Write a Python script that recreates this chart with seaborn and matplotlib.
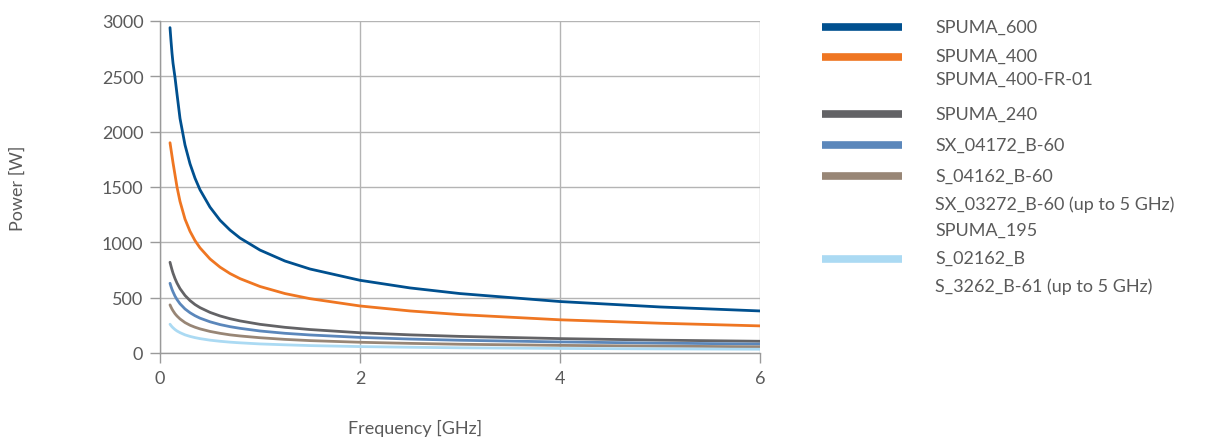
import matplotlib
matplotlib.use("Agg")
import matplotlib.pyplot as plt
from matplotlib.lines import Line2D
import seaborn as sns
import pandas as pd

# ---- data ----
freq_ghz = [0.1, 0.11, 0.12, 0.13, 0.15, 0.17, 0.2, 0.25, 0.3, 0.35, 0.4, 0.5, 0.6, 0.7, 0.8,
            1.0, 1.25, 1.5, 2.0, 2.5, 3.0, 4.0, 5.0, 6.0]
spuma_600 = [2940, 2820, 2710, 2620, 2490, 2340, 2120, 1880, 1710, 1580, 1475, 1318, 1200, 1111, 1039,
             930, 831, 759, 657, 588, 537, 465, 416, 380]
spuma_400 = [1900, 1840, 1780, 1720, 1610, 1500, 1370, 1210, 1100, 1016, 950, 850, 776, 718, 672,
             601, 537, 491, 425, 380, 347, 300, 269, 245]
spuma_240 = [820, 785, 752, 722, 673, 632, 582, 520, 474, 438, 410, 367, 335, 310, 290,
             259, 232, 212, 183, 164, 150, 130, 116, 106]
sx_04172 = [630, 601, 575, 553, 514, 483, 445, 398, 364, 337, 315, 282, 257, 238, 223,
            199, 178, 163, 141, 126, 115, 100, 89, 81]
s_04162 = [435, 415, 397, 382, 355, 334, 308, 275, 251, 233, 218, 195, 178, 164, 154,
           138, 123, 112, 97, 87, 79, 69, 62, 56]
spuma_195 = [260, 248, 237, 228, 212, 199, 184, 164, 150, 139, 130, 116, 106, 98, 92,
             82, 74, 67, 58, 52, 47, 41, 37, 34]

series_names = ["SPUMA_600", "SPUMA_400", "SPUMA_240", "SX_04172_B-60", "S_04162_B-60", "SPUMA_195"]
series_values = [spuma_600, spuma_400, spuma_240, sx_04172, s_04162, spuma_195]
colors = ["#00508f", "#ef7622", "#636366", "#5b87bb", "#988676", "#abdaf3"]

legend_labels = [
    ["SPUMA_600"],
    ["SPUMA_400", "SPUMA_400-FR-01"],
    ["SPUMA_240"],
    ["SX_04172_B-60"],
    ["S_04162_B-60", "SX_03272_B-60 (up to 5 GHz)"],
    ["SPUMA_195", "S_02162_B", "S_3262_B-61 (up to 5 GHz)"],
]

x_ticks = [0, 2, 4, 6]
y_ticks = [0, 500, 1000, 1500, 2000, 2500, 3000]

rows = []
for name, vals in zip(series_names, series_values):
    for f, v in zip(freq_ghz, vals):
        rows.append({"Frequency": f, "Power": v, "Series": name})
df = pd.DataFrame(rows)

sns.set_style("white")
TXT = "#5a5a5a"
plt.rcParams["font.family"] = ["Lato", "DejaVu Sans"]

W, H = 1205, 439
fig = plt.figure(figsize=(W / 100, H / 100), dpi=100)
ax = fig.add_axes([160 / W, 1 - 354 / H, 600 / W, 332 / H])

sns.lineplot(data=df, x="Frequency", y="Power", hue="Series", hue_order=series_names,
             palette=colors, linewidth=2.0, ax=ax, legend=False)

ax.set_xlim(0, 6)
ax.set_ylim(0, 3000)
ax.set_xticks(x_ticks)
ax.set_yticks(y_ticks)
ax.grid(True, color="#b4b4b4", linewidth=1.0)
ax.set_axisbelow(True)
for s in ["top", "right"]:
    ax.spines[s].set_visible(False)
for s in ["left", "bottom"]:
    ax.spines[s].set_color("#9a9a9a")
    ax.spines[s].set_linewidth(1.0)
ax.tick_params(axis="both", direction="out", length=7, width=1.0, color="#9a9a9a",
               labelcolor=TXT, labelsize=13, pad=5, bottom=True, left=True)
ax.set_xlabel("Frequency [GHz]", color=TXT, fontsize=13, va="center")
ax.set_ylabel("Power [W]", color=TXT, fontsize=13, va="center")
ax.xaxis.set_label_coords((415 - 160) / 600, (354 - 428) / 332)
ax.yaxis.set_label_coords((18 - 160) / 600, (354 - 188) / 332)

# ---- custom legend (figure coordinates) ----
text_rows = [[28], [57, 80], [115], [146], [177, 205], [231, 259, 287]]
handle_y = [28, 58, 115, 146, 177, 260]
for labels, ys, hy, c in zip(legend_labels, text_rows, handle_y, colors):
    fig.add_artist(Line2D([822 / W, 902 / W], [1 - hy / H, 1 - hy / H], color=c,
                          linewidth=5.5, solid_capstyle="butt", transform=fig.transFigure))
    for lab, ty in zip(labels, ys):
        fig.text(935 / W, 1 - ty / H, lab, color=TXT, fontsize=13, va="center", ha="left")

fig.savefig("out.png", dpi=100)
